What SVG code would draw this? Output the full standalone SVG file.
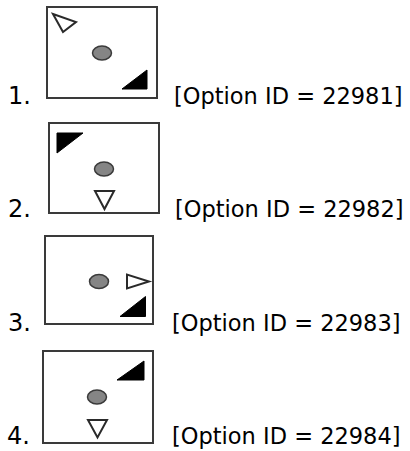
<svg xmlns="http://www.w3.org/2000/svg" width="410" height="451" viewBox="0 0 410 451">
<style>
.box{fill:#fff;stroke:#3a3a3a;stroke-width:2}
.dot{fill:#858585;stroke:#3a3a3a;stroke-width:1.5}
.open{fill:#fff;stroke:#2a2a2a;stroke-width:2;stroke-linejoin:miter}
.solid{fill:#000;stroke:#000;stroke-width:1}
.t{font-family:"DejaVu Sans","Liberation Sans",sans-serif;font-size:22.5px;fill:#000}
.n{font-family:"DejaVu Sans","Liberation Sans",sans-serif;font-size:24px;fill:#000}
</style>
<rect width="410" height="451" fill="#fff"/>
<g id="option1">
<text class="n" x="8" y="104">1.</text>
<rect class="box" x="47" y="7" width="110" height="91"/>
<polygon class="open" points="53,14 76,22 63,32"/>
<ellipse class="dot" cx="102" cy="53" rx="9.5" ry="7"/>
<polygon class="solid" points="122,89 147,70 147,89"/>
<text class="t" x="174" y="104">[Option ID = 22981]</text>
</g>
<g id="option2">
<text class="n" x="8" y="217">2.</text>
<rect class="box" x="49" y="123" width="110" height="90"/>
<polygon class="solid" points="57,133 83,133 57,153"/>
<ellipse class="dot" cx="104" cy="169" rx="9.5" ry="7"/>
<polygon class="open" points="95,191 114,191 104.5,209"/>
<text class="t" x="175" y="217">[Option ID = 22982]</text>
</g>
<g id="option3">
<text class="n" x="8" y="331">3.</text>
<rect class="box" x="45" y="236" width="108" height="88"/>
<ellipse class="dot" cx="99" cy="281.5" rx="9.5" ry="7"/>
<polygon class="open" points="127,274.5 127,288.5 149,281.5"/>
<polygon class="solid" points="120,316.5 145.5,296.5 145.5,316.5"/>
<text class="t" x="172" y="331">[Option ID = 22983]</text>
</g>
<g id="option4">
<text class="n" x="7" y="444">4.</text>
<rect class="box" x="43" y="351" width="110" height="92"/>
<polygon class="solid" points="117,380 144,361 144,380"/>
<ellipse class="dot" cx="97" cy="397" rx="9.5" ry="7"/>
<polygon class="open" points="88,420 107,420 97.5,437.5"/>
<text class="t" x="172" y="444">[Option ID = 22984]</text>
</g>
</svg>
